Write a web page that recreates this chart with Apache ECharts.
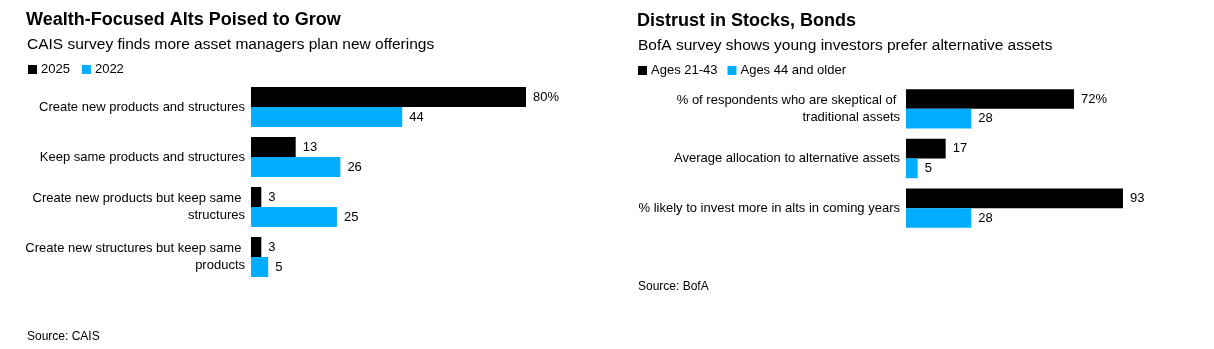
<!DOCTYPE html>
<html>
<head>
<meta charset="utf-8">
<style>
  html, body { margin: 0; padding: 0; background: #fff; }
  #chart { width: 1214px; height: 349px; }
</style>
<script src="https://cdn.jsdelivr.net/npm/echarts@6/dist/echarts.min.js"></script>
</head>
<body>
<div id="chart"></div>
<script>
// Left panel: asset-manager plans (CAIS survey)
const leftCategories = [
  'Create new products and structures',
  'Keep same products and structures',
  'Create new products but keep same structures',
  'Create new structures but keep same products'
];
const left2025 = [80, 13, 3, 3];
const left2022 = [44, 26, 25, 5];

// Right panel: investor attitudes by age (BofA survey)
const rightCategories = [
  '% of respondents who are skeptical of traditional assets',
  'Average allocation to alternative assets',
  '% likely to invest more in alts in coming years'
];
const rightYoung = [72, 17, 93];
const rightOlder = [28, 5, 28];

const FONT = '"Liberation Sans", Arial, sans-serif';
const BLACK = '#000000';
const BLUE = '#00adfe';

const chart = echarts.init(document.getElementById('chart'), null, { renderer: 'canvas' });

function valueLabel(withPercent) {
  return {
    show: true,
    position: 'right',
    distance: 7,
    color: '#000',
    fontFamily: FONT,
    fontSize: 13,
    formatter: p => (withPercent && p.dataIndex === 0) ? p.value + '%' : String(p.value)
  };
}

function catAxis(gridIndex, data, width) {
  return {
    type: 'category',
    gridIndex,
    data,
    inverse: true,
    axisLine: { show: false },
    axisTick: { show: false },
    axisLabel: {
      margin: 6,
      color: '#000',
      fontFamily: FONT,
      fontSize: 13,
      lineHeight: 17,
      width,
      overflow: 'break',
      align: 'right'
    }
  };
}

function valAxis(gridIndex) {
  return {
    type: 'value',
    gridIndex,
    min: 0,
    max: 100,
    show: false,
    splitLine: { show: false }
  };
}

const titleStyle = { fontFamily: FONT, fontSize: 18, fontWeight: 'bold', color: '#000' };
const subStyle = { fontFamily: FONT, fontSize: 15.5, fontWeight: 'normal', color: '#000' };
const srcStyle = { fontFamily: FONT, fontSize: 12, fontWeight: 'normal', color: '#000' };

chart.setOption({
  animation: false,
  backgroundColor: '#fff',
  title: [
    { text: 'Wealth-Focused Alts Poised to Grow', left: 26, top: 11, padding: 0, textStyle: titleStyle },
    { text: 'CAIS survey finds more asset managers plan new offerings', left: 27, top: 37, padding: 0, textStyle: subStyle },
    { text: 'Source: CAIS', left: 27, top: 331, padding: 0, textStyle: srcStyle },
    { text: 'Distrust in Stocks, Bonds', left: 637, top: 12, padding: 0, textStyle: titleStyle },
    { text: 'BofA survey shows young investors prefer alternative assets', left: 638, top: 38, padding: 0, textStyle: subStyle },
    { text: 'Source: BofA', left: 638, top: 281, padding: 0, textStyle: srcStyle }
  ],
  legend: [
    {
      data: ['2025', '2022'],
      left: 28, top: 63, padding: 0,
      icon: 'rect', itemWidth: 9, itemHeight: 9, itemGap: 12,
      selectedMode: false,
      textStyle: { fontFamily: FONT, fontSize: 13, color: '#000', padding: [0, 0, 0, -1] }
    },
    {
      data: ['Ages 21-43', 'Ages 44 and older'],
      left: 638, top: 64, padding: 0,
      icon: 'rect', itemWidth: 9, itemHeight: 9, itemGap: 10,
      selectedMode: false,
      textStyle: { fontFamily: FONT, fontSize: 13, color: '#000', padding: [0, 0, 0, -1] }
    }
  ],
  grid: [
    { left: 251, top: 82, width: 343.75, height: 200 },
    { left: 906, top: 84, width: 233.3, height: 149 }
  ],
  xAxis: [valAxis(0), valAxis(1)],
  yAxis: [catAxis(0, leftCategories, 228), catAxis(1, rightCategories, 268)],
  series: [
    {
      name: '2025', type: 'bar', xAxisIndex: 0, yAxisIndex: 0,
      data: left2025, barWidth: 20, barGap: '0%',
      itemStyle: { color: BLACK }, label: valueLabel(true)
    },
    {
      name: '2022', type: 'bar', xAxisIndex: 0, yAxisIndex: 0,
      data: left2022, barWidth: 20, barGap: '0%',
      itemStyle: { color: BLUE }, label: valueLabel(false)
    },
    {
      name: 'Ages 21-43', type: 'bar', xAxisIndex: 1, yAxisIndex: 1,
      data: rightYoung, barWidth: 19.7, barGap: '0%',
      itemStyle: { color: BLACK }, label: valueLabel(true)
    },
    {
      name: 'Ages 44 and older', type: 'bar', xAxisIndex: 1, yAxisIndex: 1,
      data: rightOlder, barWidth: 19.7, barGap: '0%',
      itemStyle: { color: BLUE }, label: valueLabel(false)
    }
  ]
});
</script>
</body>
</html>
